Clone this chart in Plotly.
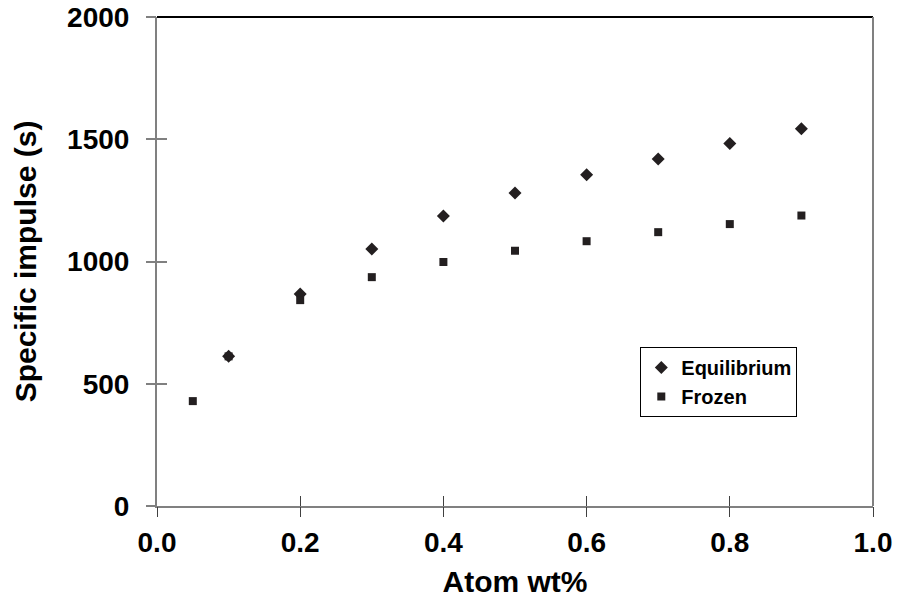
import plotly.graph_objects as go

eq_x = [0.1, 0.2, 0.3, 0.4, 0.5, 0.6, 0.7, 0.8, 0.9]
eq_y = [612, 867, 1051, 1186, 1280, 1355, 1419, 1483, 1543]
fr_x = [0.05, 0.1, 0.2, 0.3, 0.4, 0.5, 0.6, 0.7, 0.8, 0.9]
fr_y = [429, 612, 842, 936, 998, 1044, 1083, 1120, 1153, 1188]

x_ticks = [0.0, 0.2, 0.4, 0.6, 0.8, 1.0]
x_ticklabels = ["0.0", "0.2", "0.4", "0.6", "0.8", "1.0"]
y_ticks = [0, 500, 1000, 1500, 2000]

mcol = "#231f20"
fam = "Liberation Sans, Arial, sans-serif"
fig = go.Figure()
fig.add_trace(go.Scatter(x=eq_x, y=eq_y, mode="markers", name="Equilibrium",
                         marker=dict(symbol="diamond", size=10, color=mcol)))
fig.add_trace(go.Scatter(x=fr_x, y=fr_y, mode="markers", name="Frozen",
                         marker=dict(symbol="square", size=8, color=mcol)))

tick_font = dict(family=fam, size=28, color="black", weight="bold")
title_font = dict(family=fam, size=30, color="black", weight="bold")

fig.update_layout(
    width=899, height=603,
    margin=dict(l=157, r=26, t=17, b=97, autoexpand=False),
    paper_bgcolor="white", plot_bgcolor="white",
    font=dict(family=fam, color="black"),
    showlegend=True,
    legend=dict(x=0.675, y=0.325, xanchor="left", yanchor="top",
                bordercolor="black", borderwidth=1, bgcolor="white",
                font=dict(family=fam, size=20, color="black", weight="bold"),
                itemwidth=30, tracegroupgap=0),
    xaxis=dict(range=[0, 1], tickvals=x_ticks, ticktext=x_ticklabels, automargin=False,
               showgrid=False, zeroline=False, showline=True, linecolor="#808080", linewidth=2,
               ticks="inside", ticklen=10, tickcolor="#404040", tickwidth=1,
               ticklabelstandoff=10,
               title=dict(text="Atom wt%", standoff=14, font=title_font), tickfont=tick_font),
    yaxis=dict(range=[0, 2000], tickvals=y_ticks, automargin=False,
               showgrid=False, zeroline=False, showline=True, linecolor="#808080", linewidth=2,
               ticks="inside", ticklen=10, tickcolor="#808080", tickwidth=2,
               ticklabelstandoff=20,
               title=dict(text="Specific impulse (s)", standoff=22, font=title_font), tickfont=tick_font),
    xaxis2=dict(range=[0, 1], tickvals=x_ticks, overlaying="x", side="bottom", anchor="y",
                showticklabels=False, ticks="outside", ticklen=10, tickcolor="#404040", tickwidth=1,
                showgrid=False, zeroline=False, showline=False, automargin=False),
    yaxis2=dict(range=[0, 2000], tickvals=y_ticks, overlaying="y", side="left", anchor="x",
                showticklabels=False, ticks="outside", ticklen=10, tickcolor="#808080", tickwidth=2,
                showgrid=False, zeroline=False, showline=False, automargin=False),
    shapes=[
        dict(type="line", xref="paper", yref="paper", x0=0, x1=1, y0=1, y1=1,
             line=dict(color="black", width=2)),
        dict(type="line", xref="paper", yref="paper", x0=1, x1=1, y0=0, y1=1,
             line=dict(color="#808080", width=2)),
    ],
)
fig.add_trace(go.Scatter(x=[None], y=[None], xaxis="x2", yaxis="y2", showlegend=False, hoverinfo="skip"))

fig.write_html("out.html")
